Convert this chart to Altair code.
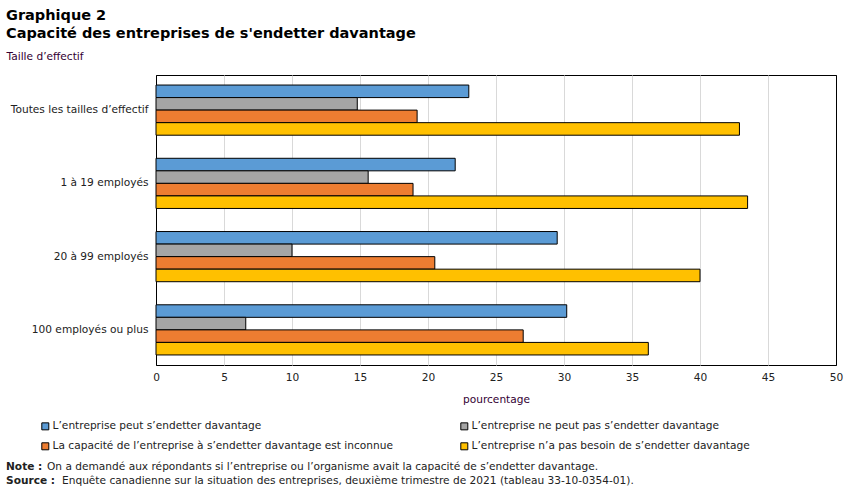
import altair as alt
import pandas as pd

# Categories (business size) and series (borrowing capacity)
categories = [
    "Toutes les tailles d’effectif",
    "1 à 19 employés",
    "20 à 99 employés",
    "100 employés ou plus",
]
series = [
    "L’entreprise peut s’endetter davantage",
    "L’entreprise ne peut pas s’endetter davantage",
    "La capacité de l’entreprise à s’endetter davantage est inconnue",
    "L’entreprise n’a pas besoin de s’endetter davantage",
]
peut = [23.0, 22.0, 29.5, 30.2]
ne_peut_pas = [14.8, 15.6, 10.0, 6.6]
inconnue = [19.2, 18.9, 20.5, 27.0]
pas_besoin = [42.9, 43.5, 40.0, 36.2]
colors = ["#5B9BD5", "#A5A5A5", "#ED7D31", "#FFC000"]
x_ticks = list(range(0, 51, 5))

rows = []
for s, vals in zip(series, [peut, ne_peut_pas, inconnue, pas_besoin]):
    for c, v in zip(categories, vals):
        rows.append({"taille": c, "serie": s, "valeur": v})
df = pd.DataFrame(rows)

LABEL_FONT = "DejaVu Sans"
TITLE_FONT = "DejaVu Sans"
LABEL_SIZE = 10.6
TXT = "#222222"
AXT = "#330033"

bars = alt.Chart(df).mark_bar(stroke="black", strokeWidth=1).encode(
    x=alt.X(
        "valeur:Q",
        scale=alt.Scale(domain=[0, 50], nice=False, zero=True),
        axis=alt.Axis(
            values=x_ticks,
            title="pourcentage",
            grid=True,
            # the outer grid lines double as the black frame of the plot
            gridColor=alt.condition(
                "datum.value == 0 || datum.value == 50",
                alt.value("black"),
                alt.value("#d9d9d9"),
            ),
            gridWidth=1,
            domain=False,
            ticks=False,
            labelFlush=False,
            labelPadding=7,
            labelFont=LABEL_FONT,
            labelFontSize=LABEL_SIZE,
            labelColor=TXT,
            titleFont=LABEL_FONT,
            titleFontSize=LABEL_SIZE,
            titleFontWeight="normal",
            titleColor=AXT,
            titleBaseline="middle",
            titleY=34,
        ),
    ),
    y=alt.Y(
        "taille:N",
        sort=categories,
        scale=alt.Scale(paddingInner=0.315, paddingOuter=0.137),
        axis=alt.Axis(
            title="Taille d’effectif",
            titleAngle=0,
            titleAlign="left",
            titleBaseline="middle",
            titleX=-150,
            titleY=-19,
            titleFont=LABEL_FONT,
            titleFontSize=LABEL_SIZE,
            titleFontWeight="normal",
            titleColor=AXT,
            ticks=False,
            domain=False,
            labelPadding=8,
            labelFont=LABEL_FONT,
            labelFontSize=LABEL_SIZE,
            labelColor=TXT,
            labelLimit=300,
        ),
    ),
    yOffset=alt.YOffset(
        "serie:N", sort=series, scale=alt.Scale(paddingInner=0, paddingOuter=0)
    ),
    color=alt.Color(
        "serie:N",
        sort=series,
        scale=alt.Scale(domain=series, range=colors),
        legend=alt.Legend(
            title=None,
            orient="none",
            legendX=-116,
            legendY=346,
            direction="horizontal",
            columns=2,
            columnPadding=65,
            rowPadding=8,
            symbolType="square",
            symbolSize=49,
            symbolStrokeColor="black",
            symbolStrokeWidth=1,
            symbolOffset=0,
            labelOffset=2,
            labelFont=LABEL_FONT,
            labelFontSize=LABEL_SIZE,
            labelColor=TXT,
            labelLimit=500,
        ),
    ),
)


def text_layer(txt, x, y, size=LABEL_SIZE, weight="normal", font=LABEL_FONT, color=TXT):
    return alt.Chart(pd.DataFrame({"t": [txt]})).mark_text(
        align="left",
        baseline="alphabetic",
        font=font,
        fontSize=size,
        fontWeight=weight,
        color=color,
    ).encode(x=alt.value(x), y=alt.value(y), text="t:N")


titles = [
    text_layer("Graphique 2", -150, -55, size=14.5, weight="bold", font=TITLE_FONT, color="black"),
    text_layer("Capacité des entreprises de s'endetter davantage", -150, -37, size=14.5, weight="bold", font=TITLE_FONT, color="black"),
    text_layer("Note :", -150, 395, weight="bold"),
    text_layer("On a demandé aux répondants si l’entreprise ou l’organisme avait la capacité de s’endetter davantage.", -109, 395),
    text_layer("Source :", -150, 409, weight="bold"),
    text_layer("Enquête canadienne sur la situation des entreprises, deuxième trimestre de 2021 (tableau 33-10-0354-01).", -94, 409),
]

chart = alt.layer(bars, *titles).properties(
    width=680,
    height=290,
    autosize=alt.AutoSizeParams(type="none"),
    padding={"left": 156, "top": 75, "right": 16, "bottom": 127},
).configure_view(stroke="black", strokeWidth=1)

chart.save("out.html", embed_options={"renderer": "svg", "actions": False})
